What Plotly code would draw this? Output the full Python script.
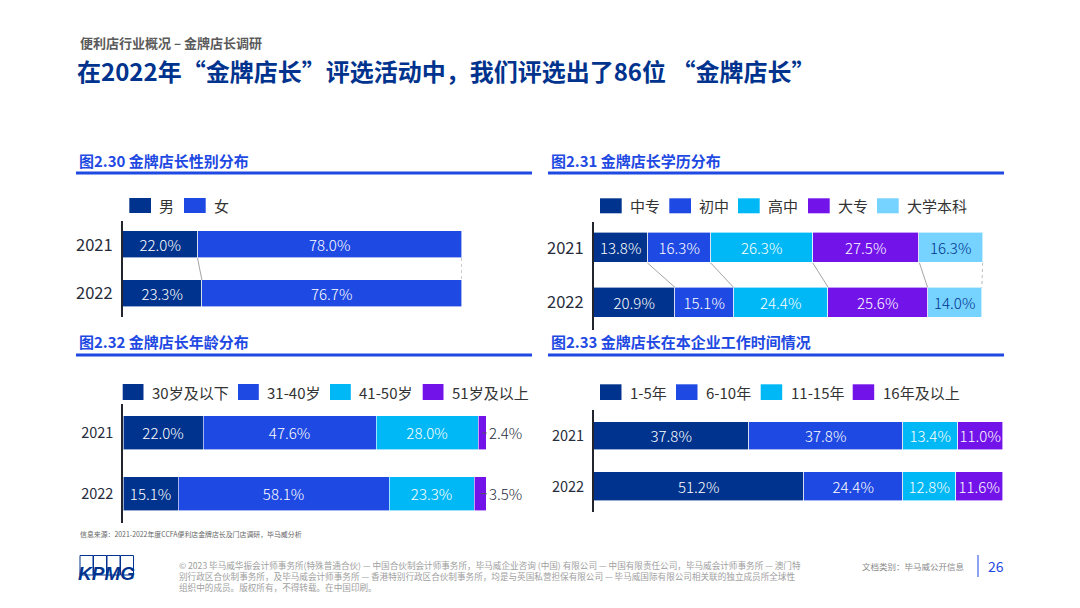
import plotly.graph_objects as go

# ---------------- data ----------------
years = ["2021", "2022"]

gender_series = ["男", "女"]
gender_male = [22.0, 23.3]
gender_female = [78.0, 76.7]

edu_series = ["中专", "初中", "高中", "大专", "大学本科"]
edu_zhongzhuan = [13.8, 20.9]
edu_chuzhong = [16.3, 15.1]
edu_gaozhong = [26.3, 24.4]
edu_dazhuan = [27.5, 25.6]
edu_benke = [16.3, 14.0]

age_series = ["30岁及以下", "31-40岁", "41-50岁", "51岁及以上"]
age_u30 = [22.0, 15.1]
age_31_40 = [47.6, 58.1]
age_41_50 = [28.0, 23.3]
age_51p = [2.4, 3.5]

tenure_series = ["1-5年", "6-10年", "11-15年", "16年及以上"]
tenure_1_5 = [37.8, 51.2]
tenure_6_10 = [37.8, 24.4]
tenure_11_15 = [13.4, 12.8]
tenure_16p = [11.0, 11.6]

chart_titles = ["图2.30 金牌店长性别分布", "图2.31 金牌店长学历分布",
                "图2.32 金牌店长年龄分布", "图2.33 金牌店长在本企业工作时间情况"]

# ---------------- styling ----------------
W, H = 1080, 608
def fx(x): return x / W
def fy(y): return 1 - y / H

FONT = "Noto Sans CJK SC, Noto Sans, sans-serif"
PALETTE = ["#00338D", "#1E49E2", "#00B8F5", "#7213EA", "#76D2FF"]
NAVY = "#00338D"
BLUE = "#1E49E2"
INK = "#272c3a"

panels = [
    dict(names=gender_series, values=[gender_male, gender_female],
         textcolors=["white", "white"],
         x=(123, 461.7), y=(221, 316.7), yr=[1.481, -0.488], bw=0.545, tick=16.5,
         leg_x=[129.3, 184], leg_y=(198, 213), leg_w=21.7, connectors=True, outside_last=False,
         title_xy=(77, 160.7), rule=(76, 532, 173)),
    dict(names=edu_series, values=[edu_zhongzhuan, edu_chuzhong, edu_gaozhong, edu_dazhuan, edu_benke],
         textcolors=["white", "white", "white", "white", NAVY],
         x=(594, 982.7), y=(221.7, 330), yr=[1.505, -0.483], bw=0.55, tick=16.5,
         leg_x=[600, 669.3, 738, 808, 877], leg_y=(198.3, 213.3), leg_w=21.7, connectors=True, outside_last=False,
         title_xy=(549, 160.7), rule=(548, 1004, 173)),
    dict(names=age_series, values=[age_u30, age_31_40, age_41_50, age_51p],
         textcolors=["white", "white", "white", "white"],
         x=(123.3, 486.7), y=(404, 523), yr=[1.483, -0.478], bw=0.56, tick=14.5,
         leg_x=[122.7, 238, 330, 422.7], leg_y=(384, 400), leg_w=20.8, connectors=False, outside_last=True,
         title_xy=(77, 341.7), rule=(76, 532, 355)),
    dict(names=tenure_series, values=[tenure_1_5, tenure_6_10, tenure_11_15, tenure_16p],
         textcolors=["white", "white", "white", "white"],
         x=(594, 1003.3), y=(410, 511.7), yr=[1.493, -0.513], bw=0.565, tick=14.5,
         leg_x=[600, 676, 760.7, 852.7], leg_y=(384.3, 400), leg_w=21.5, connectors=False, outside_last=False,
         title_xy=(549, 341.2), rule=(548, 1004, 355)),
]

fig = go.Figure()
shapes = []
annotations = []

for k, p in enumerate(panels):
    ax = "" if k == 0 else str(k + 1)
    xa, ya = "x" + ax, "y" + ax
    n = len(p["names"])
    totals = [sum(v[j] for v in p["values"]) for j in range(len(years))]
    for i, (name, vals) in enumerate(zip(p["names"], p["values"])):
        outside = p["outside_last"] and i == n - 1
        fig.add_trace(go.Bar(
            y=years, x=vals, name=name, orientation="h", xaxis=xa, yaxis=ya,
            width=p["bw"],
            marker=dict(color=PALETTE[i], line=dict(color="white", width=0.6)),
            text=[f"{v:.1f}%" for v in vals],
            textposition="outside" if outside else "inside",
            insidetextanchor="middle", textangle=0,
            insidetextfont=dict(family=FONT, size=15, color=p["textcolors"][i], weight=300),
            outsidetextfont=dict(family=FONT, size=15, color=INK, weight=300),
            cliponaxis=False, showlegend=False, hoverinfo="skip",
        ))
        # legend (manual)
        lx = p["leg_x"][i]
        shapes.append(dict(type="rect", xref="paper", yref="paper",
                           x0=fx(lx), x1=fx(lx + p["leg_w"]),
                           y0=fy(p["leg_y"][1]), y1=fy(p["leg_y"][0]),
                           fillcolor=PALETTE[i], line=dict(width=0)))
        annotations.append(dict(xref="paper", yref="paper", x=fx(lx + p["leg_w"] + 6.3),
                                y=fy((p["leg_y"][0] + p["leg_y"][1]) / 2),
                                text=name, showarrow=False, xanchor="left", yanchor="middle",
                                font=dict(family=FONT, size=15, color="#333333")))

    fig.layout["xaxis" + ax] = dict(domain=[fx(p["x"][0]), fx(p["x"][1])], range=[0, max(totals)],
                                    visible=False, anchor=ya, fixedrange=True)
    fig.layout["yaxis" + ax] = dict(domain=[fy(p["y"][1]), fy(p["y"][0])], type="category",
                                    categoryorder="array", categoryarray=years, range=p["yr"],
                                    anchor=xa, showline=True, linecolor="#22242e", linewidth=2,
                                    ticks="", ticklabelstandoff=5, showgrid=False, zeroline=False,
                                    tickfont=dict(family=FONT, size=p["tick"], color=INK),
                                    fixedrange=True)

    # connectors between the two years
    if p["connectors"]:
        c0 = c1 = 0.0
        for i, vals in enumerate(p["values"]):
            c0 += vals[0]
            c1 += vals[1]
            last = i == n - 1
            shapes.append(dict(type="line", xref=xa, yref=ya,
                               x0=c0, y0=0 + p["bw"] / 2, x1=c1, y1=1 - p["bw"] / 2,
                               line=dict(color="#8c8c8c", width=0.8, dash="dot" if last else "solid")))
    # leader lines for outside labels
    if p["outside_last"]:
        for j in range(len(years)):
            seg = p["values"][-1][j]
            shapes.append(dict(type="line", xref=xa, yref=ya,
                               x0=totals[j] - seg / 2, x1=totals[j] + 0.4, y0=j, y1=j,
                               line=dict(color="#555555", width=1)))

    # chart title + rule
    tx, ty = p["title_xy"]
    annotations.append(dict(xref="paper", yref="paper", x=fx(tx), y=fy(ty),
                            text="<b>" + chart_titles[k] + "</b>", showarrow=False,
                            xanchor="left", yanchor="middle",
                            font=dict(family=FONT, size=15, color=BLUE)))
    r0, r1, ry = p["rule"]
    shapes.append(dict(type="rect", xref="paper", yref="paper", x0=fx(r0), x1=fx(r1),
                       y0=fy(ry + 1.4), y1=fy(ry - 1.4), fillcolor=BLUE, line=dict(width=0)))

# ---------------- page text ----------------
annotations += [
    dict(xref="paper", yref="paper", x=fx(78), y=fy(42.5), xanchor="left", yanchor="middle",
         text="<b>便利店行业概况 – 金牌店长调研</b>", showarrow=False,
         font=dict(family=FONT, size=13, color="#5a5a5a")),
    dict(xref="paper", yref="paper", x=fx(75), y=fy(70.5), xanchor="left", yanchor="middle",
         text="<b>在2022年“金牌店长”评选活动中，我们评选出了86位 “金牌店长”</b>", showarrow=False,
         font=dict(family=FONT, size=24, color=NAVY)),
    dict(xref="paper", yref="paper", x=fx(78), y=fy(534), xanchor="left", yanchor="middle",
         text="信息来源：2021-2022年度CCFA便利店金牌店长及门店调研，毕马威分析", showarrow=False,
         font=dict(family=FONT, size=6.9, color="#666666")),
    dict(xref="paper", yref="paper", x=fx(177), y=fy(556.5), xanchor="left", yanchor="top", align="left",
         text="© 2023 毕马威华振会计师事务所(特殊普通合伙) — 中国合伙制会计师事务所，毕马威企业咨询 (中国) 有限公司 — 中国有限责任公司，毕马威会计师事务所 — 澳门特<br>"
              "别行政区合伙制事务所，及毕马威会计师事务所 — 香港特别行政区合伙制事务所，均是与英国私营担保有限公司 — 毕马威国际有限公司相关联的独立成员所全球性<br>"
              "组织中的成员。版权所有，不得转载。在中国印刷。",
         showarrow=False, font=dict(family=FONT, size=8.6, color="#a0a0a0")),
    dict(xref="paper", yref="paper", x=fx(967), y=fy(566), xanchor="right", yanchor="middle",
         text="文档类别：毕马威公开信息", showarrow=False,
         font=dict(family=FONT, size=8.5, color="#8a8a8a")),
    dict(xref="paper", yref="paper", x=fx(996), y=fy(566), xanchor="center", yanchor="middle",
         text="26", showarrow=False, font=dict(family=FONT, size=14, color=BLUE)),
    dict(xref="paper", yref="paper", x=fx(106), y=fy(573), xanchor="center", yanchor="middle",
         text="<b><i>KPMG</i></b>", showarrow=False,
         font=dict(family="Liberation Sans, Arial", size=19, color=NAVY)),
]
shapes.append(dict(type="line", xref="paper", yref="paper", x0=fx(978), x1=fx(978),
                   y0=fy(577), y1=fy(555), line=dict(color=BLUE, width=1)))
for bx in [80, 93.5, 107, 120.5]:
    shapes.append(dict(type="rect", xref="paper", yref="paper", x0=fx(bx), x1=fx(bx + 13),
                       y0=fy(575), y1=fy(555.5), line=dict(color=NAVY, width=1), fillcolor="rgba(0,0,0,0)",
                       layer="below"))

fig.update_layout(
    width=W, height=H, autosize=False,
    margin=dict(l=0, r=0, t=0, b=0),
    paper_bgcolor="white", plot_bgcolor="rgba(0,0,0,0)",
    barmode="stack", bargap=0,
    uniformtext=dict(minsize=15, mode="show"),
    shapes=shapes, annotations=annotations,
    font=dict(family=FONT),
)

fig.write_html("out.html", config={"displayModeBar": False},
               post_script="document.body.style.margin='0';document.body.style.overflow='hidden';")
